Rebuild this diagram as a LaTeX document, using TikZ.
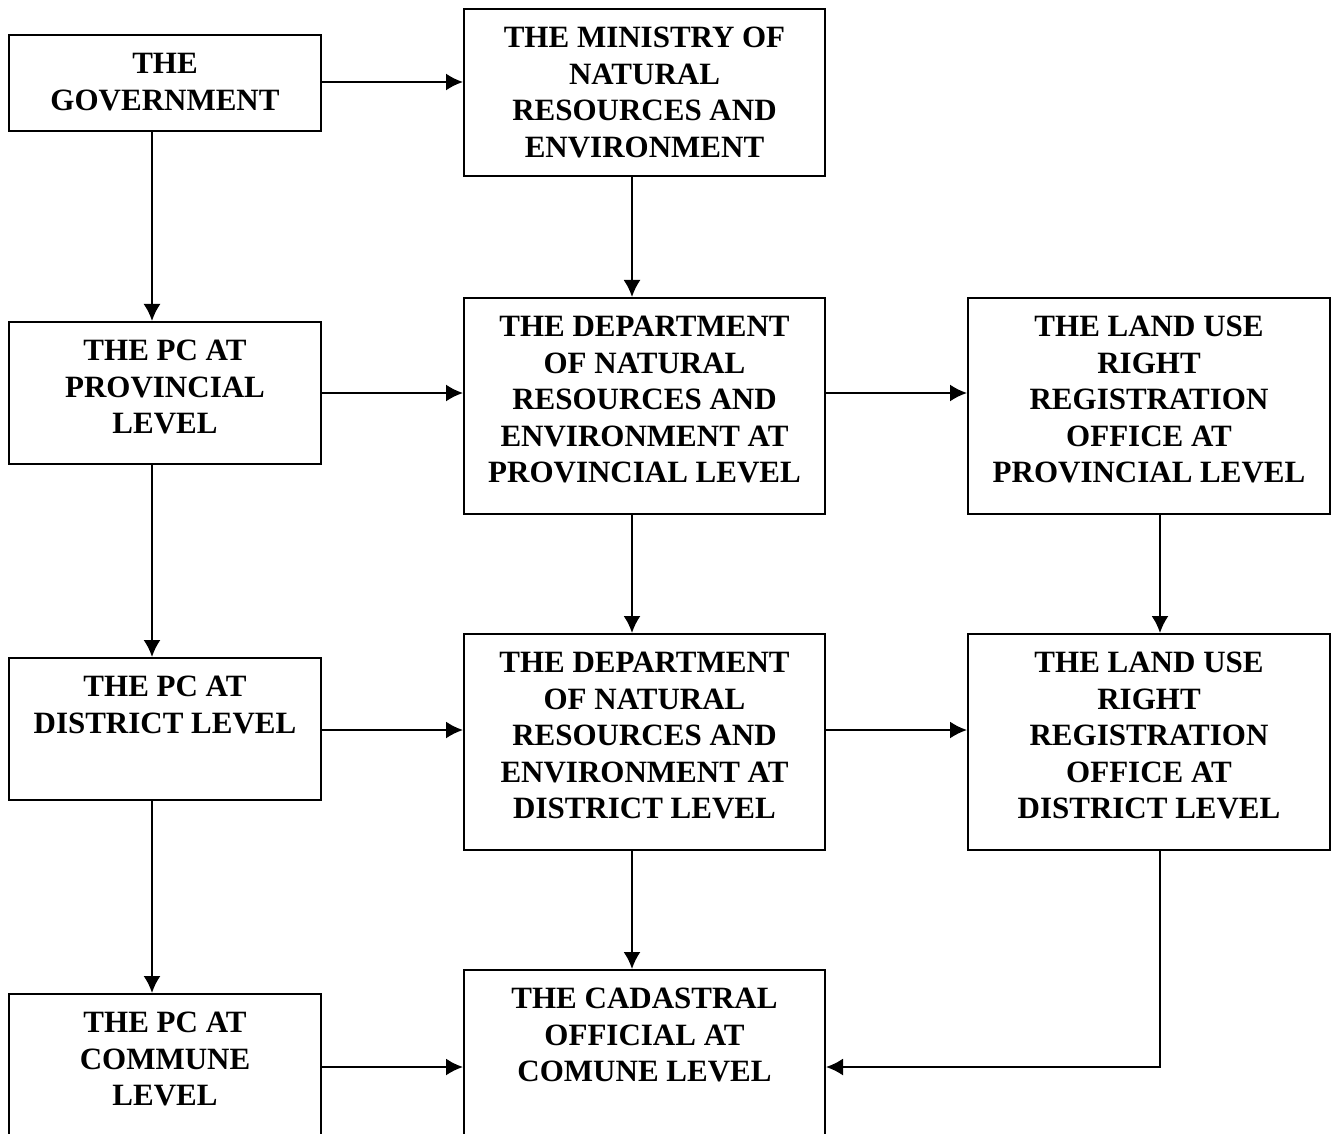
\documentclass[tikz,border=0pt]{standalone}
\usepackage{fontspec}
\setmainfont{Liberation Serif}
\usepackage{tikz}
\usetikzlibrary{arrows.meta,positioning}
\tikzstyle{office} = [rectangle, draw=black, line width=1pt, fill=white, anchor=north west, inner sep=0pt]
\tikzstyle{boxtext} = [anchor=north, align=center, inner sep=0pt, yshift=-9.5pt, font=\fontsize{15.5}{18.2}\selectfont\bfseries]
\tikzstyle{link}  = [draw, line width=1pt, -{Latex[length=8.5pt, width=8.5pt]}]

\begin{document}
\begin{tikzpicture}[x=0.5pt, y=-0.5pt]
\useasboundingbox (0,0) rectangle (1333,1134);

% left column =============================
\node[office, minimum width=156pt, minimum height=48pt, label={[boxtext]north:THE\\GOVERNMENT}] (gov) at (8,34) {};
\node[office, minimum width=156pt, minimum height=71pt, label={[boxtext]north:THE PC AT\\PROVINCIAL\\LEVEL}] (pcprov) at (8,321) {};
\node[office, minimum width=156pt, minimum height=71pt, label={[boxtext]north:THE PC AT\\DISTRICT LEVEL}] (pcdist) at (8,657) {};
\node[office, minimum width=156pt, minimum height=74pt, label={[boxtext]north:THE PC AT\\COMMUNE\\LEVEL}] (pccomm) at (8,993) {};

% middle column
\node[office, minimum width=180.5pt, minimum height=83.5pt, label={[boxtext]north:THE MINISTRY OF\\NATURAL\\RESOURCES AND\\ENVIRONMENT}] (ministry) at (463,8) {};
\node[office, minimum width=180.5pt, minimum height=108pt, label={[boxtext]north:THE DEPARTMENT\\OF NATURAL\\RESOURCES AND\\ENVIRONMENT AT\\PROVINCIAL LEVEL}] (dnreprov) at (463,297) {};
\node[office, minimum width=180.5pt, minimum height=108pt, label={[boxtext]north:THE DEPARTMENT\\OF NATURAL\\RESOURCES AND\\ENVIRONMENT AT\\DISTRICT LEVEL}] (dnredist) at (463,633) {};
\node[office, minimum width=180.5pt, minimum height=108pt, label={[boxtext]north:THE CADASTRAL\\OFFICIAL AT\\COMUNE LEVEL}] (cadastral) at (463,969) {};

% right column
\node[office, minimum width=181pt, minimum height=108pt, label={[boxtext]north:THE LAND USE\\RIGHT\\REGISTRATION\\OFFICE AT\\PROVINCIAL LEVEL}] (lurprov) at (967,297) {};
\node[office, minimum width=181pt, minimum height=108pt, label={[boxtext]north:THE LAND USE\\RIGHT\\REGISTRATION\\OFFICE AT\\DISTRICT LEVEL}] (lurdist) at (967,633) {};

% lanes for the edges
\coordinate (lanea) at (152,0);
\coordinate (laneb) at (632,0);
\coordinate (lanec) at (1160,0);
\coordinate (rowa) at (0,82);
\coordinate (rowb) at (0,393);
\coordinate (rowc) at (0,730);
\coordinate (rowd) at (0,1067);

% edges
\path[link] (gov.east |- rowa) -- (ministry.west |- rowa);
\path[link] (pcprov.east |- rowb) -- (dnreprov.west |- rowb);
\path[link] (dnreprov.east |- rowb) -- (lurprov.west |- rowb);
\path[link] (pcdist.east |- rowc) -- (dnredist.west |- rowc);
\path[link] (dnredist.east |- rowc) -- (lurdist.west |- rowc);
\path[link] (pccomm.east |- rowd) -- (cadastral.west |- rowd);

\path[link] (gov.south -| lanea) -- (pcprov.north -| lanea);
\path[link] (pcprov.south -| lanea) -- (pcdist.north -| lanea);
\path[link] (pcdist.south -| lanea) -- (pccomm.north -| lanea);
\path[link] (ministry.south -| laneb) -- (dnreprov.north -| laneb);
\path[link] (dnreprov.south -| laneb) -- (dnredist.north -| laneb);
\path[link] (dnredist.south -| laneb) -- (cadastral.north -| laneb);
\path[link] (lurprov.south -| lanec) -- (lurdist.north -| lanec);
\path[link] (lurdist.south -| lanec) |- (cadastral.east |- rowd);

\end{tikzpicture}
\end{document}
